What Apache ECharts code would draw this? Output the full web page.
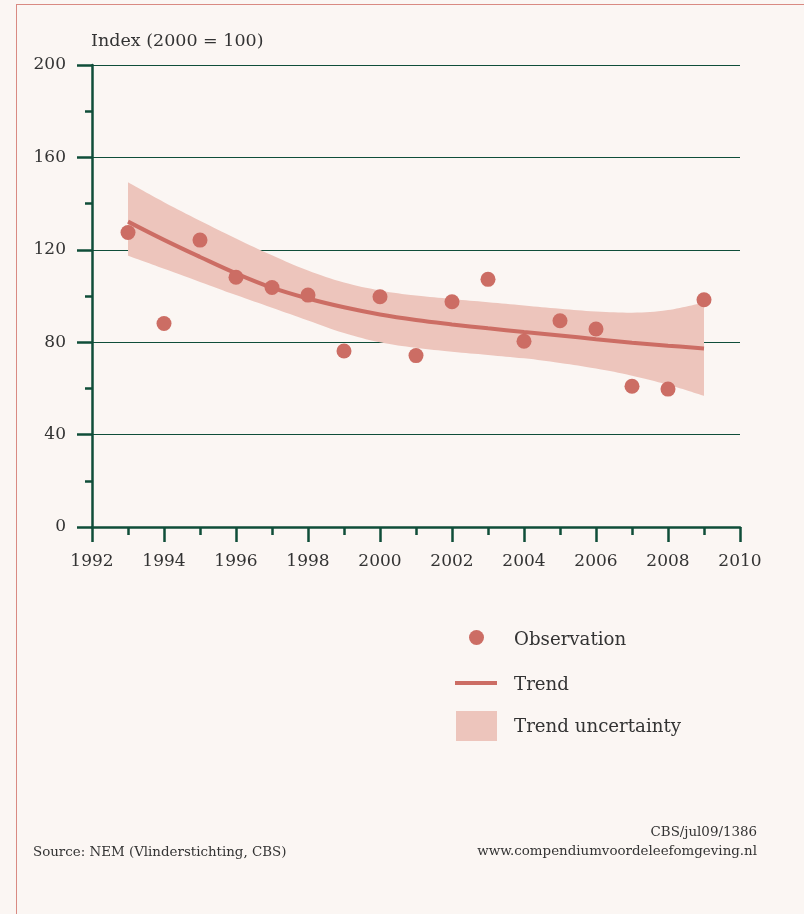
<!DOCTYPE html>
<html>
<head>
<meta charset="utf-8">
<script src="https://cdn.jsdelivr.net/npm/echarts@6/dist/echarts.min.js"></script>
<style>
  html, body { margin: 0; padding: 0; background: #fbf6f3; }
  #frame {
    position: absolute; left: 16px; top: 4px; width: 900px; height: 1000px;
    border-left: 1.5px solid #d98a82; border-top: 1.5px solid #d98a82;
  }
  #chart { position: absolute; left: 0; top: 0; width: 804px; height: 914px; }
</style>
</head>
<body>
<div id="frame"></div>
<div id="chart"></div>
<script>
// Butterfly index, 1993-2009 (2000 = 100)
const years = [1993, 1994, 1995, 1996, 1997, 1998, 1999, 2000, 2001, 2002, 2003, 2004, 2005, 2006, 2007, 2008, 2009];
const observations = [127.5, 88.1, 124.2, 108.1, 103.7, 100.4, 76.2, 99.7, 74.2, 97.5, 107.2, 80.4, 89.3, 85.7, 60.9, 59.7, 98.4];
const trend = [132.2, 124.3, 116.9, 109.8, 103.6, 98.9, 95.1, 92.0, 89.6, 87.7, 86.0, 84.4, 82.9, 81.3, 79.8, 78.5, 77.3];
const trendUpper = [149.2, 140.6, 132.6, 124.9, 117.6, 111.0, 105.8, 102.4, 100.2, 98.7, 97.3, 95.9, 94.5, 93.3, 92.8, 93.9, 97.3];
const trendLower = [117.4, 111.8, 106.1, 100.4, 94.9, 89.4, 84.0, 80.0, 77.6, 75.9, 74.5, 73.0, 71.0, 68.6, 65.5, 61.6, 56.8];

const xTicks = { min: 1992, max: 2010, interval: 2 };
const yTicks = { min: 0, max: 200, interval: 40 };

const labels = {
  yTitle: 'Index (2000 = 100)',
  observation: 'Observation',
  trend: 'Trend',
  band: 'Trend uncertainty',
  source: 'Source: NEM (Vlinderstichting, CBS)',
  code: 'CBS/jul09/1386',
  site: 'www.compendiumvoordeleefomgeving.nl'
};

const DARK = '#0f4d39';
const RED = '#cc6d64';
const PINK = '#edc5bc';
const TEXT = '#333333';
const SERIF = '"DejaVu Serif", serif';

const pair = (arr) => years.map((y, i) => [y, arr[i]]);
// The band is stacked along y, so its rows put the value first and the year second.
const bandBase = years.map((y, i) => [trendLower[i], y]);
const bandWidth = years.map((y, i) => [+(trendUpper[i] - trendLower[i]).toFixed(2), y]);

const chart = echarts.init(document.getElementById('chart'), null, { renderer: 'canvas' });

const smallText = { fontFamily: SERIF, fontSize: 13.4, fontWeight: 'normal', color: TEXT };
// Legend labels are rich text so that a top padding nudges the words below the icon centre.
const legendText = (top, left) => ({
  padding: [top, 0, 0, left],
  rich: { t: { fontFamily: SERIF, fontSize: 18.2, color: TEXT } }
});

chart.setOption({
  backgroundColor: 'transparent',
  animation: false,
  textStyle: { fontFamily: SERIF, color: TEXT },
  title: [
    { text: labels.yTitle, left: 91, top: 32, padding: 0,
      textStyle: { fontFamily: SERIF, fontSize: 17.5, fontWeight: 'normal', color: TEXT } },
    { text: labels.source, left: 33, top: 846, padding: 0, textStyle: smallText },
    { text: labels.code, right: 47, top: 826, padding: 0, textStyle: smallText },
    { text: labels.site, right: 47, top: 845, padding: 0, textStyle: smallText }
  ],
  legend: [
    { data: [{ name: labels.observation, icon: 'circle' }], left: 469, top: 630, padding: 0,
      itemWidth: 15, itemHeight: 15, selectedMode: false, formatter: '{t|{name}}',
      textStyle: legendText(6, 25) },
    { data: [{ name: labels.trend, icon: 'rect', itemStyle: { color: RED } }], left: 455, top: 676, padding: 0,
      itemWidth: 42, itemHeight: 4, selectedMode: false, formatter: '{t|{name}}',
      textStyle: legendText(4, 12) },
    { data: [{ name: labels.band, icon: 'rect', itemStyle: { color: PINK } }], left: 456, top: 711, padding: 0,
      itemWidth: 41, itemHeight: 30, selectedMode: false, formatter: '{t|{name}}',
      textStyle: legendText(3, 12) }
  ],
  grid: { left: 92, right: 64, top: 65, bottom: 387, containLabel: false },
  xAxis: {
    type: 'value', min: xTicks.min, max: xTicks.max, interval: xTicks.interval,
    axisLine: { show: true, onZero: false, lineStyle: { color: DARK, width: 2.5 } },
    axisTick: { show: true, inside: false, length: 15, lineStyle: { color: DARK, width: 2.5 } },
    minorTick: { show: true, splitNumber: 2, length: 8, lineStyle: { color: DARK, width: 2.5 } },
    splitLine: { show: false },
    axisLabel: { fontFamily: SERIF, fontSize: 17, color: TEXT, margin: 26, formatter: (v) => String(v) }
  },
  yAxis: {
    type: 'value', min: yTicks.min, max: yTicks.max, interval: yTicks.interval,
    axisLine: { show: true, lineStyle: { color: DARK, width: 2.5 } },
    axisTick: { show: true, inside: false, length: 15, lineStyle: { color: DARK, width: 2.5 } },
    minorTick: { show: true, splitNumber: 2, length: 7, lineStyle: { color: DARK, width: 2.5 } },
    splitLine: { show: true, lineStyle: { color: DARK, width: 1 } },
    axisLabel: { fontFamily: SERIF, fontSize: 17, color: TEXT, margin: 26, formatter: (v) => String(v) }
  },
  series: [
    {
      name: 'band-base', type: 'line', stack: 'band', data: bandBase, encode: { x: 1, y: 0 },
      symbol: 'none', smooth: 0.4, lineStyle: { opacity: 0 }, silent: true, z: 1
    },
    {
      name: labels.band, type: 'line', stack: 'band', data: bandWidth, encode: { x: 1, y: 0 },
      symbol: 'none', smooth: 0.4, color: PINK,
      lineStyle: { opacity: 0 }, areaStyle: { color: PINK, opacity: 1 }, silent: true, z: 1
    },
    {
      name: labels.trend, type: 'line', data: pair(trend), color: RED,
      symbol: 'none', showSymbol: false, smooth: 0.4,
      lineStyle: { color: RED, width: 4 }, z: 3
    },
    {
      name: labels.observation, type: 'scatter', data: pair(observations), color: RED,
      symbol: 'circle', symbolSize: 15, itemStyle: { color: RED, opacity: 1 }, z: 4
    }
  ]
});
</script>
</body>
</html>
